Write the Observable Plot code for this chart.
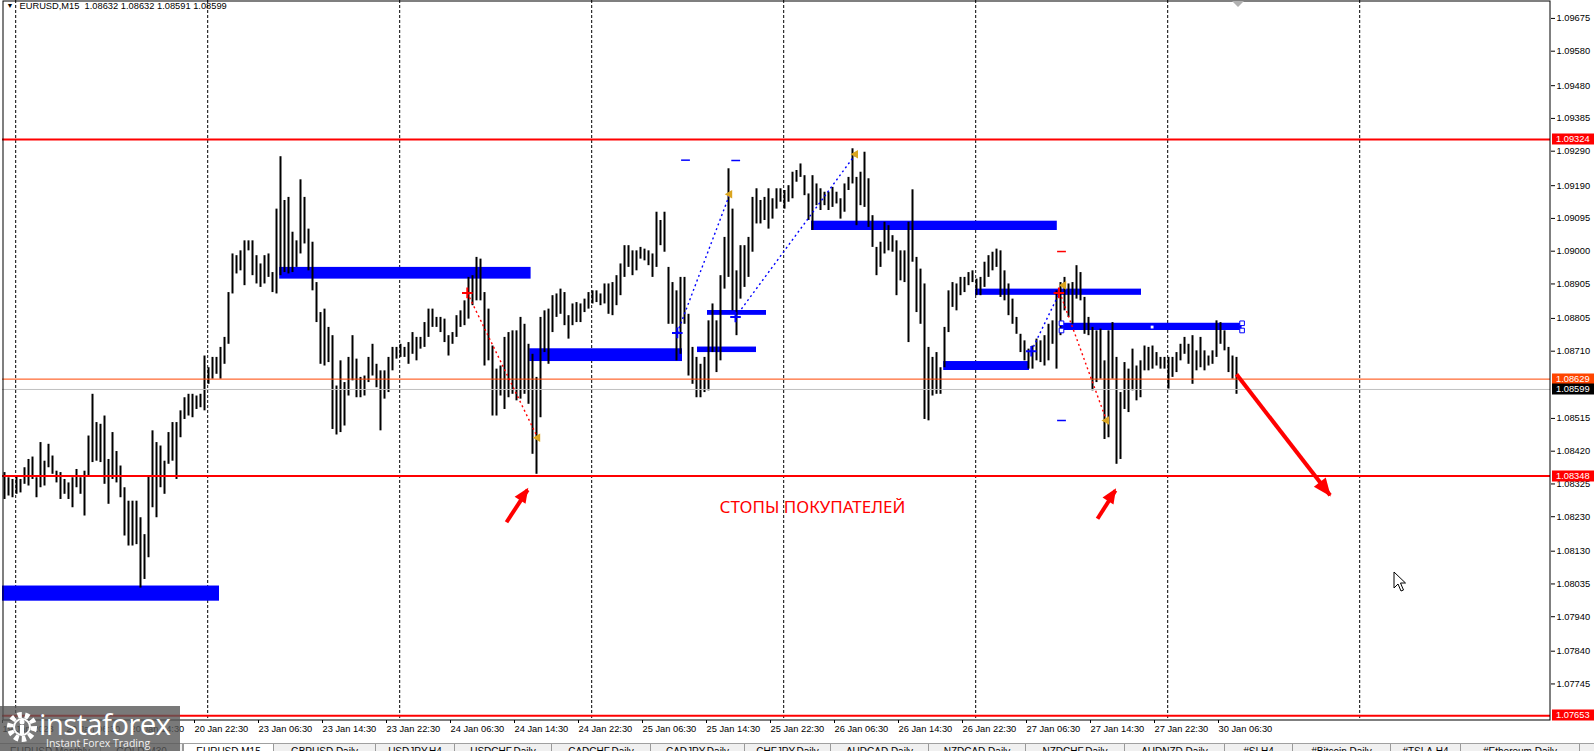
<!DOCTYPE html>
<html><head><meta charset="utf-8">
<script src="https://cdn.jsdelivr.net/npm/d3@7"></script>
<script src="https://cdn.jsdelivr.net/npm/@observablehq/plot@0.6"></script>
<style>
html,body{margin:0;padding:0;background:#fff;overflow:hidden;}
#wrap{position:relative;width:1594px;height:751px;overflow:hidden;}
#chart svg{display:block;}
#tabs{position:absolute;left:0;top:743px;width:1594px;height:8px;overflow:hidden;background:#F0F0F0;border-top:1px solid #A0A0A0;}
.tab{position:absolute;top:0;height:20px;box-sizing:border-box;border-right:1px solid #9A9A9A;font:10px "Liberation Sans",sans-serif;text-align:center;line-height:15px;color:#000;white-space:nowrap;overflow:hidden;}
.tab.active{background:#fff;border-left:1px solid #9A9A9A;}
#logo{position:absolute;left:0;top:706px;width:180px;height:45px;background:rgba(88,88,88,0.8);}
#logo .big{position:absolute;left:39px;top:-3px;font:29.5px "Open Sans",sans-serif;color:#fff;letter-spacing:-0.7px;}
#logo .small{position:absolute;left:46px;top:30px;font:10.5px "Open Sans",sans-serif;color:#f2f2f2;}
#logo svg{position:absolute;left:3px;top:4px;}
#cursor{position:absolute;left:1393px;top:571px;}
</style></head><body>
<div id="wrap"><div id="chart"></div><div id="tabs"></div>
<div id="logo"><svg width="38" height="38" viewBox="0 0 38 38"><circle cx="19" cy="17" r="12" fill="none" stroke="#fff" stroke-width="6" stroke-dasharray="4.2,3.2"/><circle cx="19" cy="17" r="8" fill="none" stroke="#fff" stroke-width="2"/><circle cx="19" cy="12" r="2.5" fill="#fff"/><rect x="17" y="15" width="4" height="10" fill="#fff"/></svg><div class="big">instaforex</div><div class="small">Instant Forex Trading</div></div>
<svg id="cursor" width="14" height="22"><path d="M1,1 L1,17 L5,13 L8,20 L10.5,19 L7.5,12 L12.5,12 Z" fill="#fff" stroke="#000" stroke-width="1"/></svg>
</div>
<script>
// ---- header ----
const symbolName = "EURUSD,M15";
const headerOHLC = [1.08632, 1.08632, 1.08591, 1.08599];

// ---- price bars (30-min aggregation of the M15 bars) ----
const highs = [
1.08358,1.08343,1.08338,1.08348,1.08338,1.08372,1.08396,1.08403,1.08343,1.08445,
1.08391,1.08440,1.08406,1.08362,1.08358,1.08338,1.08328,1.08343,1.08367,1.08343,
1.08362,1.08464,1.08585,1.08503,1.08498,1.08522,1.08396,1.08474,1.08419,1.08377,
1.08314,1.08275,1.08275,1.08275,1.08227,1.08178,1.08348,1.08479,1.08445,1.08435,
1.08391,1.08474,1.08503,1.08503,1.08537,1.08575,1.08585,1.08585,1.08580,1.08585,
1.08696,1.08662,1.08692,1.08692,1.08721,1.08750,1.08880,1.08992,1.08987,1.09001,
1.09030,1.09030,
1.09030,1.08987,1.08963,1.08987,1.08992,1.08938,1.09122,1.09274,1.09147,1.09156,
1.09055,1.09030,1.09207,1.09156,1.09064,1.09026,1.08909,1.08822,1.08832,1.08779,
1.08755,1.08609,1.08682,1.08619,1.08692,1.08755,1.08687,1.08634,1.08638,1.08692,
1.08730,1.08672,1.08653,1.08653,1.08692,1.08721,1.08721,1.08730,1.08721,1.08735,
1.08764,1.08750,1.08750,1.08793,1.08832,1.08832,1.08808,1.08808,1.08803,1.08755,
1.08764,1.08813,1.08827,1.08856,1.08924,1.08929,1.08982,1.08977,1.08880,1.08832,
1.08725,1.08658,
1.08667,1.08750,1.08764,1.08769,1.08769,1.08808,1.08788,1.08730,1.08701,1.08634,
1.08808,1.08827,1.08832,1.08871,1.08876,1.08890,1.08880,1.08813,1.08847,1.08851,
1.08847,1.08861,1.08880,1.08885,1.08885,1.08876,1.08905,1.08905,1.08909,1.08929,
1.08963,1.09016,1.09016,1.09001,1.09001,1.09011,1.09006,1.09001,1.08992,1.09113,
1.09089,1.09113,1.08953,1.08909,1.08885,1.08924,1.08924,1.08817,1.08721,1.08692,
1.08672,1.08692,1.08798,1.08847,1.08798,1.08929,1.09040,1.09239,1.09122,1.08943,
1.09016,1.09016,1.09040,
1.09156,1.09181,1.09147,1.09156,1.09181,1.09152,1.09181,1.09181,1.09176,1.09190,
1.09229,1.09234,1.09253,1.09219,1.09166,1.09219,1.09195,1.09181,1.09171,1.09171,
1.09185,1.09171,1.09152,1.09195,1.09214,1.09297,1.09214,1.09229,1.09287,1.09210,
1.09103,1.09011,1.09026,1.09084,1.09074,1.09045,1.09030,1.09001,1.09001,1.09084,
1.09178,1.08982,1.08948,1.08905,1.08721,1.08692,1.08706,1.08662,1.08779,1.08885,
1.08909,1.08905,1.08924,1.08924,1.08938,1.08943,1.08919,1.08924,1.08968,1.08987,
1.08997,1.09006,1.09001,
1.08943,1.08905,1.08861,1.08808,1.08759,1.08740,1.08716,1.08725,1.08745,1.08740,
1.08755,1.08788,1.08798,1.08885,1.08909,1.08924,1.08905,1.08909,1.08958,1.08938,
1.08866,1.08808,1.08779,1.08769,1.08774,1.08682,1.08769,1.08793,1.08692,1.08590,
1.08677,1.08658,1.08716,1.08667,1.08682,1.08725,1.08721,1.08725,1.08706,1.08692,
1.08692,1.08692,1.08692,1.08706,1.08730,1.08750,1.08730,1.08755,1.08711,1.08750,
1.08711,1.08696,1.08711,1.08798,1.08793,1.08769,1.08721,1.08696,1.08692];
const lows = [
1.08280,1.08290,1.08285,1.08295,1.08299,1.08324,1.08319,1.08338,1.08285,1.08314,
1.08319,1.08372,1.08353,1.08328,1.08280,1.08295,1.08280,1.08256,1.08314,1.08295,
1.08232,1.08348,1.08387,1.08391,1.08387,1.08324,1.08266,1.08338,1.08328,1.08285,
1.08174,1.08145,1.08145,1.08149,1.08023,1.08048,1.08111,1.08256,1.08227,1.08314,
1.08295,1.08382,1.08391,1.08338,1.08459,1.08512,1.08522,1.08517,1.08541,1.08546,
1.08537,1.08614,1.08629,1.08643,1.08629,1.08672,1.08730,1.08876,1.08934,1.08943,
1.08900,1.09001,
1.08929,1.08905,1.08895,1.08905,1.08924,1.08880,1.08876,1.08929,1.08938,1.08934,
1.08938,1.08953,1.08992,1.09021,1.08943,1.08885,1.08793,1.08672,1.08667,1.08677,
1.08483,1.08467,1.08474,1.08493,1.08580,1.08624,1.08575,1.08575,1.08580,1.08619,
1.08638,1.08604,1.08479,1.08571,1.08590,1.08653,1.08687,1.08692,1.08692,1.08672,
1.08701,1.08682,1.08716,1.08721,1.08750,1.08779,1.08779,1.08764,1.08735,1.08696,
1.08730,1.08750,1.08779,1.08784,1.08803,1.08842,1.08856,1.08856,1.08667,1.08682,
1.08522,1.08522,
1.08580,1.08541,1.08575,1.08585,1.08566,1.08571,1.08585,1.08556,1.08411,1.08353,
1.08517,1.08706,1.08672,1.08764,1.08808,1.08817,1.08784,1.08745,1.08784,1.08793,
1.08793,1.08822,1.08832,1.08847,1.08851,1.08842,1.08847,1.08817,1.08813,1.08842,
1.08871,1.08924,1.08953,1.08929,1.08943,1.08977,1.08972,1.08958,1.08924,1.08953,
1.09016,1.08997,1.08788,1.08788,1.08682,1.08701,1.08788,1.08638,1.08614,1.08575,
1.08575,1.08590,1.08595,1.08706,1.08648,1.08682,1.08890,1.08924,1.08827,1.08755,
1.08861,1.08895,1.08924,
1.08997,1.09079,1.09079,1.09089,1.09064,1.09093,1.09122,1.09142,1.09122,1.09142,
1.09152,1.09200,1.09214,1.09161,1.09089,1.09060,1.09132,1.09118,1.09132,1.09118,
1.09127,1.09137,1.09093,1.09113,1.09176,1.09195,1.09074,1.09132,1.09127,1.09069,
1.09011,1.08929,1.08953,1.08992,1.09001,1.08997,1.08871,1.08914,1.08909,1.08735,
1.08968,1.08822,1.08788,1.08512,1.08508,1.08580,1.08585,1.08585,1.08662,1.08764,
1.08837,1.08827,1.08871,1.08880,1.08900,1.08909,1.08871,1.08871,1.08895,1.08924,
1.08943,1.08953,1.08866,
1.08856,1.08813,1.08788,1.08759,1.08706,1.08682,1.08658,1.08658,1.08682,1.08677,
1.08667,1.08682,1.08730,1.08658,1.08755,1.08827,1.08808,1.08788,1.08861,1.08856,
1.08759,1.08755,1.08595,1.08619,1.08629,1.08454,1.08459,1.08629,1.08382,1.08396,
1.08541,1.08532,1.08595,1.08566,1.08575,1.08653,1.08653,1.08658,1.08667,1.08658,
1.08658,1.08600,1.08634,1.08648,1.08682,1.08701,1.08672,1.08614,1.08653,1.08662,
1.08653,1.08667,1.08672,1.08692,1.08730,1.08711,1.08648,1.08629,1.08585];

// ---- axes ----
const priceTicks = [1.09675,1.09580,1.09480,1.09385,1.09290,1.09190,1.09095,1.09000,1.08905,1.08805,1.08710,
  1.08515,1.08420,1.08325,1.08230,1.08130,1.08035,1.07940,1.07840,1.07745];
const timeLabels = ["19 Jan 2023","20 Jan 06:30","20 Jan 14:30","20 Jan 22:30","23 Jan 06:30","23 Jan 14:30",
  "23 Jan 22:30","24 Jan 06:30","24 Jan 14:30","24 Jan 22:30","25 Jan 06:30","25 Jan 14:30","25 Jan 22:30",
  "26 Jan 06:30","26 Jan 14:30","26 Jan 22:30","27 Jan 06:30","27 Jan 14:30","27 Jan 22:30","30 Jan 06:30"];
const labelBars = timeLabels.map((_, k) => 16 * k - 0.5);     // one label every 8 hours
const gridBars = [2.8, 50.8, 98.8, 146.8, 194.8, 242.8, 290.8, 338.8];

// ---- horizontal levels ----
const redLevels = [1.09324, 1.08348, 1.07653];
const askLevel = 1.08629;
const bidLevel = 1.08599;

// ---- blue zones ----
const zoneStart = [-0.5, 68.8, 131.3, 175.75, 173.25, 201.75, 242.75, 234.8, 264.25];
const zoneEnd   = [53.75, 131.65, 169.5, 190.5, 188, 263.2, 284.25, 256.25, 309.4];
const zoneTop   = [1.08029, 1.08953, 1.08717, 1.08828, 1.08722, 1.09087, 1.08890, 1.08680, 1.08791];
const zoneBottom= [1.07985, 1.08919, 1.08680, 1.08814, 1.08706, 1.09060, 1.08872, 1.08654, 1.08770];

// ---- zigzag swings ----
const swingFromBar = [168.2, 182.75, 115.7, 256.7, 263.8];
const swingFromPrice = [1.08763, 1.08809, 1.08879, 1.08710, 1.08881];
const swingToBar = [181.3, 212.75, 133.3, 263.8, 275.5];
const swingToPrice = [1.09165, 1.09281, 1.08459, 1.08881, 1.08509];
const swingColor = ["blue", "blue", "red", "blue", "red"];
const crossBar = [168.2, 182.75, 256.7, 115.7, 263.6];
const crossPrice = [1.08763, 1.08809, 1.08710, 1.08879, 1.08879];
const crossColor = ["blue", "blue", "blue", "red", "red"];
const pivotBar = [181.3, 212.75, 133.3, 264.8, 275.5];
const pivotPrice = [1.09165, 1.09281, 1.08459, 1.08901, 1.08509];
const dashBar = [170.25, 182.8, 264.25, 264.25];
const dashPrice = [1.09264, 1.09263, 1.08509, 1.08999];
const dashColor = ["blue", "blue", "blue", "red"];
const handleBar = [264.25, 264.25, 309.4, 309.4];
const handlePrice = [1.08791, 1.08770, 1.08791, 1.08770];

// ---- arrows & annotation ----
const arrowFromBar = [125.5, 273.25, 308];
const arrowFromPrice = [1.08214, 1.08224, 1.08643];
const arrowToBar = [130.8, 277.75, 331.4];
const arrowToPrice = [1.08308, 1.08306, 1.08292];
const noteText = "СТОПЫ ПОКУПАТЕЛЕЙ";
const noteBar = 178.75, notePrice = 1.08258;

// ---- tabs ----
const tabNames = ["EURUSD,Monthly","GOLD,M30","EURUSD,M15","GBPUSD,Daily","USDJPY,H4","USDCHF,Daily","CADCHF,Daily",
  "CADJPY,Daily","CHFJPY,Daily","AUDCAD,Daily","NZDCAD,Daily","NZDCHF,Daily","AUDNZD,Daily","#SI,H4",
  "#Bitcoin,Daily","#TSLA,H4","#Ethereum,Daily"];
const tabLefts = [0,101,183,274,376,455,552,651,745,831,929,1026,1125,1225,1293,1391,1461,1580];

// ---------- build ----------
const bars = highs.map((h, i) => ({j: i, high: h, low: lows[i]}));
const zones = zoneStart.map((s, i) => ({x1: s, x2: zoneEnd[i], y1: zoneBottom[i], y2: zoneTop[i]}));
const swings = swingFromBar.map((b, i) => ({x1: b, y1: swingFromPrice[i], x2: swingToBar[i], y2: swingToPrice[i], c: swingColor[i]}));
const crosses = crossBar.map((b, i) => ({x: b, y: crossPrice[i], c: crossColor[i]}));
const pivots = pivotBar.map((b, i) => ({x: b, y: pivotPrice[i]}));
const dashes = dashBar.map((b, i) => ({x: b, y: dashPrice[i], c: dashColor[i]}));
const handles = handleBar.map((b, i) => ({x: b, y: handlePrice[i]}));
const arrows = arrowFromBar.map((b, i) => ({x1: b, y1: arrowFromPrice[i], x2: arrowToBar[i], y2: arrowToPrice[i]}));
const labelMap = new Map(labelBars.map((b, i) => [b, timeLabels[i]]));
const header = symbolName + "  " + headerOHLC.map(v => v.toFixed(5)).join(" ");
const FONT = "'Liberation Sans', Arial, sans-serif";

const chart = Plot.plot({
  width: 1594, height: 743,
  marginLeft: 2, marginRight: 44, marginTop: 0, marginBottom: 23,
  x: {domain: [-0.5, 386.5], axis: null, label: null},
  y: {domain: [1.07639, 1.09727], axis: null, label: null},
  style: {fontFamily: FONT, fontSize: "9.3px", color: "#000", background: "#fff", overflow: "visible"},
  marks: [
    Plot.ruleX(gridBars, {stroke: "#000", strokeWidth: 1, strokeDasharray: "3,2"}),
    Plot.rect(zones, {x1: "x1", x2: "x2", y1: "y1", y2: "y2", fill: "#0000FF"}),
    Plot.ruleX(bars, {x: "j", y1: "low", y2: "high", stroke: "#000", strokeWidth: 2}),
    Plot.ruleY([bidLevel], {stroke: "#C0C0C0", strokeWidth: 1}),
    Plot.ruleY([askLevel], {stroke: "#FF4500", strokeWidth: 1}),
    Plot.ruleY(redLevels, {stroke: "#FF0000", strokeWidth: 2}),
    Plot.link(swings, {x1: "x1", y1: "y1", x2: "x2", y2: "y2", stroke: "c", strokeWidth: 1.4, strokeDasharray: "2,3"}),
    Plot.dot(crosses, {x: "x", y: "y", symbol: "plus", r: 3.5, stroke: "c", strokeWidth: 2}),
    Plot.dot(pivots, {x: "x", y: "y", symbol: "triangle", r: 3.2, fill: "#DAA520", rotate: -90}),
    Plot.link(dashes, {x1: d => d.x - 1.1, x2: d => d.x + 1.1, y1: "y", y2: "y", stroke: "c", strokeWidth: 1.5}),
    Plot.dot(handles, {x: "x", y: "y", symbol: "square", r: 2.6, fill: "#fff", stroke: "#0000FF", strokeWidth: 1}),
    Plot.dot([{x: 286.9, y: 1.08780}], {x: "x", y: "y", symbol: "square", r: 1.6, fill: "#fff"}),
    Plot.link(arrows, {x1: "x1", y1: "y1", x2: "x2", y2: "y2", stroke: "#FF0000", strokeWidth: 4, ariaLabel: "arrowshaft"}),
    Plot.text([noteText], {x: noteBar, y: notePrice, textAnchor: "start", fill: "#FF0000", fontSize: 17, fontFamily: "'Noto Sans', sans-serif", ariaLabel: "note"}),
    Plot.text([header], {frameAnchor: "top-left", dx: 17, dy: 2, lineAnchor: "top", textAnchor: "start", fill: "#000", fontSize: 9.3}),
    Plot.text(["▼"], {frameAnchor: "top-left", dx: 4, dy: 3, lineAnchor: "top", textAnchor: "start", fill: "#000", fontSize: 7}),
    Plot.frame({stroke: "#000", inset: 0.5}),
    Plot.axisX(labelBars, {anchor: "bottom", tickFormat: d => labelMap.get(d), textAnchor: "start", tickSize: 3, tickPadding: 2, fontSize: 9.3}),
    Plot.axisY(priceTicks, {anchor: "right", tickFormat: d => d.toFixed(5), tickSize: 4, tickPadding: 2, fontSize: 9.3})
  ]
});
document.getElementById("chart").appendChild(chart);

const xs = chart.scale("x");
const ys = chart.scale("y");
const svg = d3.select(chart);

// filled arrow heads, placed through the chart's scales
arrows.forEach((a, i) => {
  const X1 = xs.apply(a.x1), Y1 = ys.apply(a.y1), X2 = xs.apply(a.x2), Y2 = ys.apply(a.y2);
  const ang = Math.atan2(Y2 - Y1, X2 - X1);
  const L = i === 2 ? 16 : 13, W = i === 2 ? 7.5 : 6.5;
  const bx = X2 - L * Math.cos(ang), by = Y2 - L * Math.sin(ang);
  const pts = [[X2 + 2 * Math.cos(ang), Y2 + 2 * Math.sin(ang)],
               [bx + W * Math.sin(ang), by - W * Math.cos(ang)],
               [bx - W * Math.sin(ang), by + W * Math.cos(ang)]];
  svg.append("polygon").attr("points", pts.map(p => p.join(",")).join(" ")).attr("fill", "#FF0000");
});

// highlighted price labels on the right scale
const tagged = [
  ...redLevels.map(v => ({v, bg: "#FF0000", fg: "#fff"})),
  {v: askLevel, bg: "#FF4500", fg: "#fff"},
  {v: bidLevel, bg: "#000", fg: "#fff"}
];
const g = svg.append("g").attr("text-anchor", "start");
tagged.forEach(t => {
  const y = Math.round(ys.apply(t.v));
  g.append("rect").attr("x", 1552).attr("y", y - 5.5).attr("width", 42).attr("height", 11).attr("fill", t.bg);
  g.append("text").attr("x", 1556).attr("y", y).attr("dy", "0.36em").attr("fill", t.fg).attr("text-anchor", "start")
    .attr("font-size", 9.3).attr("font-family", FONT).text(t.v.toFixed(5));
});
svg.select('g[aria-label="note"] text').attr("textLength", 179).attr("lengthAdjust", "spacingAndGlyphs");
// chart shift marker at the top
svg.append("path").attr("d", "M1232,1 L1244,1 L1238,7 Z").attr("fill", "#B0B0B0");

// tab bar
const tabsEl = document.getElementById("tabs");
tabNames.forEach((t, i) => {
  const s = document.createElement("div");
  s.className = "tab" + (t === symbolName ? " active" : "");
  s.style.left = tabLefts[i] + "px";
  s.style.width = (tabLefts[i + 1] - tabLefts[i]) + "px";
  s.textContent = t;
  tabsEl.appendChild(s);
});
</script>
</body></html>
